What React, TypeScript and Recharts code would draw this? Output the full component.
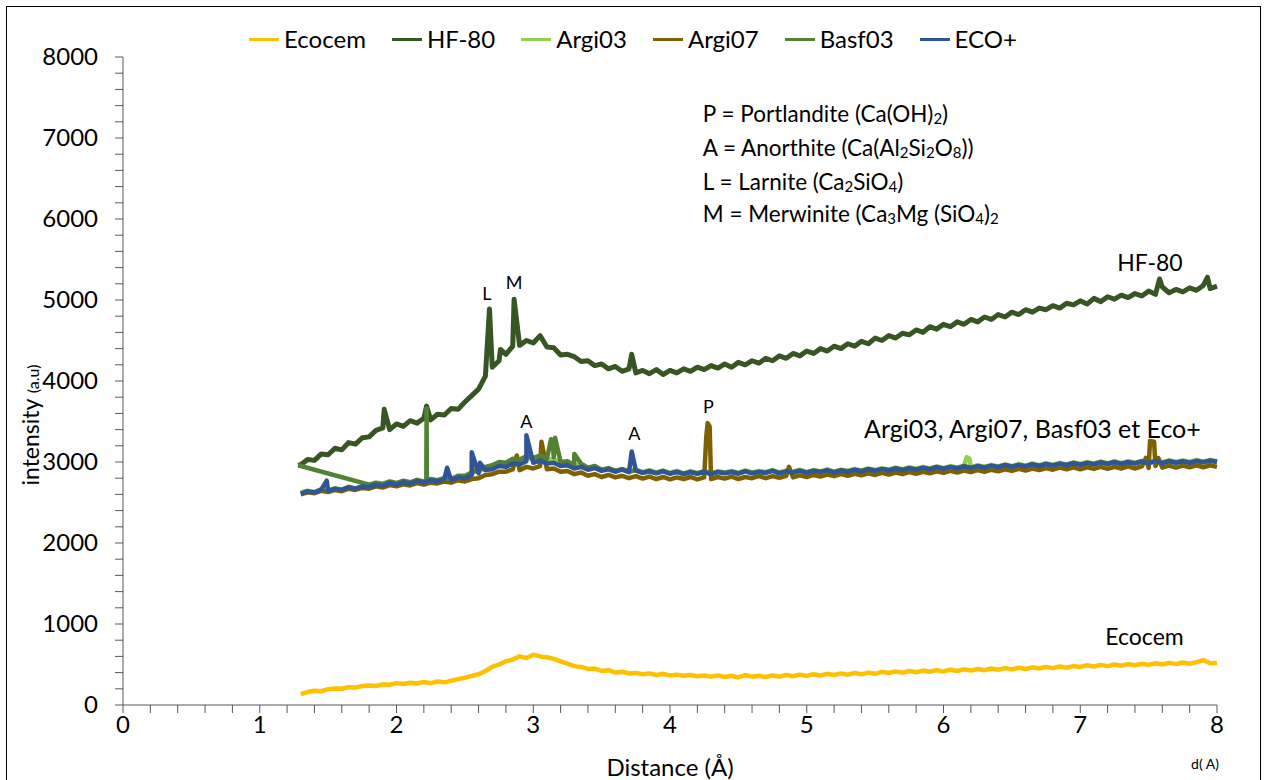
import { LineChart, Line, XAxis, YAxis, ReferenceDot } from 'recharts';

// d-spacing grid shared by all scans: 1.30 .. 8.00 step 0.05
const D_START = 1.3;
const D_STEP = 0.05;

const ecocem = [
  135, 160, 175, 170, 195, 205, 200, 220, 215, 235,
  240, 235, 255, 250, 270, 260, 275, 265, 285, 270,
  290, 280, 300, 320, 335, 360, 380, 420, 470, 500,
  540, 560, 600, 580, 620, 600, 590, 570, 540, 510,
  480, 470, 445, 450, 420, 430, 400, 410, 390, 395,
  380, 390, 370, 385, 365, 375, 360, 370, 355, 365,
  350, 365, 345, 360, 340, 370, 350, 360, 345, 365,
  350, 370, 355, 375, 360, 380, 365, 385, 370, 390,
  375, 395, 380, 400, 385, 410, 395, 415, 400, 420,
  405, 425, 410, 430, 415, 435, 420, 440, 425, 445,
  430, 450, 435, 455, 440, 460, 445, 465, 450, 470,
  455, 475, 460, 480, 470, 490, 475, 495, 480, 500,
  485, 505, 490, 510, 495, 515, 500, 520, 505, 525,
  510, 530, 555, 515, 520,
];

const hf80 = [
  2965, 3030, 3020, 3100, 3090, 3170, 3150, 3240, 3220, 3300,
  3310, 3390, 3420, 3400, 3470, 3440, 3510, 3480, 3540, 3520,
  3590, 3580, 3660, 3650, 3740, 3820, 3900, 4060, 4170, 4250,
  4330, 4430, 4440, 4500, 4470, 4560, 4420, 4410, 4320, 4330,
  4300, 4240, 4250, 4190, 4210, 4150, 4180, 4120, 4150, 4100,
  4130, 4090, 4140, 4080, 4130, 4100, 4150, 4120, 4170, 4140,
  4190, 4160, 4210, 4170, 4230, 4200, 4250, 4220, 4280, 4250,
  4310, 4280, 4340, 4310, 4370, 4340, 4400, 4370, 4430, 4400,
  4460, 4430, 4490, 4460, 4530, 4500, 4560, 4530, 4590, 4570,
  4630, 4600, 4670, 4640, 4700, 4670, 4730, 4700, 4760, 4730,
  4790, 4760, 4820, 4790, 4850, 4820, 4880, 4850, 4900, 4880,
  4930, 4900, 4960, 4940, 4990, 4950, 5020, 4980, 5040, 5010,
  5060, 5030, 5080, 5050, 5110, 5070, 5160, 5090, 5130, 5100,
  5150, 5120, 5180, 5140, 5170,
];

const argi03 = [
  2620, 2645, 2630, 2665, 2650, 2675, 2660, 2695, 2675, 2705,
  2700, 2725, 2710, 2745, 2725, 2755, 2740, 2770, 2750, 2780,
  2770, 2800, 2785, 2820, 2810, 2850, 2880, 2920, 2940, 2980,
  2970, 3020, 3000, 3060, 3030, 3070, 3020, 3040, 2990, 3000,
  2950, 2970, 2920, 2945, 2900, 2925, 2890, 2915, 2885, 2905,
  2875, 2900, 2870, 2895, 2865, 2890, 2860, 2885, 2865, 2890,
  2860, 2885, 2870, 2890, 2865, 2895, 2870, 2890, 2875, 2900,
  2870, 2895, 2880, 2905, 2875, 2900, 2885, 2910, 2880, 2905,
  2890, 2915, 2895, 2920, 2900, 2925, 2905, 2930, 2910, 2935,
  2915, 2940, 2920, 2945, 2925, 2950, 2930, 2955, 2935, 2960,
  2940, 2965, 2945, 2970, 2950, 2975, 2955, 2980, 2960, 2985,
  2965, 2990, 2970, 2995, 2975, 3000, 2980, 3005, 2985, 3010,
  2985, 3010, 2990, 3015, 2995, 3020, 2995, 3020, 3000, 3020,
  3000, 3025, 3005, 3025, 3010,
];

const argi07 = [
  2600, 2625, 2615, 2645, 2630, 2655, 2640, 2670, 2655, 2680,
  2670, 2700, 2685, 2715, 2700, 2725, 2710, 2740, 2720, 2745,
  2735, 2760, 2745, 2775, 2760, 2790, 2800, 2840, 2850, 2880,
  2880, 2910, 2900, 2940, 2920, 2950, 2910, 2920, 2880, 2890,
  2850, 2870, 2830, 2850, 2815, 2840, 2810, 2830, 2800, 2825,
  2795, 2820, 2790, 2815, 2785, 2810, 2790, 2815, 2785, 2810,
  2790, 2815, 2795, 2820, 2790, 2815, 2800, 2825, 2800, 2825,
  2805, 2830, 2810, 2835, 2815, 2840, 2820, 2845, 2825, 2850,
  2830, 2855, 2835, 2860, 2840, 2865, 2845, 2870, 2850, 2875,
  2855, 2880, 2860, 2885, 2865, 2890, 2870, 2895, 2875, 2900,
  2880, 2905, 2885, 2910, 2890, 2915, 2895, 2920, 2900, 2925,
  2905, 2930, 2910, 2935, 2910, 2935, 2915, 2940, 2915, 2940,
  2920, 2945, 2920, 2945, 2925, 2950, 2930, 2955, 2930, 2955,
  2935, 2960, 2935, 2960, 2940,
];

// Basf03 scan has no points below 1.80 except its stray first one
const basf03 = [
  null, null, null, null, null, null, null, null, null, null,
  2720, 2745, 2730, 2760, 2740, 2770, 2750, 2780, 2760, 2790,
  2775, 2800, 2790, 2830, 2830, 2870, 2900, 2940, 2960, 3000,
  2990, 3040, 3030, 3070, 3050, 3080, 3040, 3060, 3000, 3010,
  2960, 2980, 2930, 2950, 2905, 2925, 2890, 2910, 2880, 2900,
  2870, 2880, 2865, 2890, 2860, 2875, 2855, 2880, 2860, 2875,
  2855, 2880, 2865, 2875, 2860, 2890, 2865, 2875, 2870, 2895,
  2865, 2880, 2875, 2890, 2870, 2895, 2880, 2895, 2875, 2900,
  2885, 2900, 2890, 2915, 2895, 2910, 2900, 2925, 2905, 2920,
  2910, 2925, 2915, 2940, 2920, 2935, 2925, 2950, 2930, 2945,
  2935, 2950, 2940, 2965, 2945, 2960, 2950, 2975, 2955, 2970,
  2960, 2975, 2965, 2990, 2970, 2985, 2975, 3000, 2980, 2995,
  2980, 2995, 2985, 3010, 2990, 3005, 2990, 3015, 2995, 3005,
  2995, 3010, 3000, 3020, 3005,
];

const ecoPlus = [
  2610, 2640, 2625, 2660, 2645, 2670, 2655, 2690, 2670, 2700,
  2690, 2720, 2705, 2740, 2720, 2750, 2735, 2765, 2745, 2775,
  2760, 2790, 2775, 2810, 2800, 2840, 2860, 2900, 2910, 2950,
  2940, 2980, 2970, 3010, 2990, 3020, 2980, 2990, 2950, 2960,
  2920, 2940, 2905, 2925, 2890, 2910, 2880, 2905, 2875, 2895,
  2865, 2890, 2860, 2885, 2855, 2880, 2850, 2875, 2855, 2880,
  2850, 2875, 2860, 2880, 2855, 2885, 2860, 2880, 2865, 2890,
  2860, 2885, 2870, 2895, 2865, 2890, 2875, 2900, 2870, 2895,
  2880, 2905, 2885, 2910, 2890, 2915, 2895, 2920, 2900, 2925,
  2905, 2930, 2910, 2935, 2915, 2940, 2920, 2945, 2925, 2950,
  2930, 2955, 2935, 2960, 2940, 2965, 2945, 2970, 2950, 2975,
  2955, 2980, 2960, 2985, 2965, 2990, 2970, 2995, 2975, 3000,
  2975, 3000, 2980, 3005, 2985, 3010, 2985, 3010, 2990, 3010,
  2990, 3015, 2995, 3015, 3000,
];

// narrow diffraction peaks, [d, intensity]
const ecocemPeaks: [number, number][] = [];
const hf80Peaks: [number, number][] = [
  [1.28, 2960], [1.91, 3650], [2.22, 3690], [2.68, 4890], [2.76, 4390],
  [2.86, 5010], [3.72, 4330], [7.58, 5260], [7.93, 5280],
];
const argi03Peaks: [number, number][] = [[2.57, 2900], [6.17, 3060], [6.19, 3040]];
const argi07Peaks: [number, number][] = [
  [2.88, 3080], [3.06, 3250], [4.265, 3300], [4.275, 3480], [4.29, 3440],
  [4.87, 2940], [7.48, 3050], [7.51, 3260], [7.54, 3250], [7.57, 3050],
];
const basf03Peaks: [number, number][] = [
  [1.28, 2960], [2.218, 2770], [2.22, 3660], [2.222, 2770],
  [3.13, 3280], [3.145, 3180], [3.16, 3300], [3.3, 3100],
];
const ecoPlusPeaks: [number, number][] = [
  [1.49, 2770], [2.37, 2930], [2.55, 3120], [2.61, 2990], [2.95, 3330], [3.72, 3130],
];

const xTicks = [
  0, 0.2, 0.4, 0.6, 0.8, 1, 1.2, 1.4, 1.6, 1.8, 2, 2.2, 2.4, 2.6, 2.8, 3, 3.2, 3.4, 3.6, 3.8,
  4, 4.2, 4.4, 4.6, 4.8, 5, 5.2, 5.4, 5.6, 5.8, 6, 6.2, 6.4, 6.6, 6.8, 7, 7.2, 7.4, 7.6, 7.8, 8,
];
const yTicks = [
  0, 200, 400, 600, 800, 1000, 1200, 1400, 1600, 1800, 2000, 2200, 2400, 2600, 2800, 3000,
  3200, 3400, 3600, 3800, 4000, 4200, 4400, 4600, 4800, 5000, 5200, 5400, 5600, 5800, 6000,
  6200, 6400, 6600, 6800, 7000, 7200, 7400, 7600, 7800, 8000,
];

const series = [
  { name: 'Ecocem', color: '#FFC000', values: ecocem, peaks: ecocemPeaks },
  { name: 'HF-80', color: '#375623', values: hf80, peaks: hf80Peaks },
  { name: 'Argi03', color: '#92D050', values: argi03, peaks: argi03Peaks },
  { name: 'Argi07', color: '#7F6000', values: argi07, peaks: argi07Peaks },
  { name: 'Basf03', color: '#548235', values: basf03, peaks: basf03Peaks },
  { name: 'ECO+', color: '#2F5597', values: ecoPlus, peaks: ecoPlusPeaks },
];

const peakLabels = [
  { text: 'L', d: 2.66, v: 5080 },
  { text: 'M', d: 2.86, v: 5210 },
  { text: 'A', d: 2.95, v: 3500 },
  { text: 'A', d: 3.74, v: 3350 },
  { text: 'P', d: 4.28, v: 3690 },
];
const curveLabels = [
  { text: 'HF-80', d: 7.51, v: 5460 },
  { text: 'Argi03, Argi07, Basf03 et Eco+', d: 6.65, v: 3410 },
  { text: 'Ecocem', d: 7.47, v: 840 },
];

const FONT = "Lato, 'Open Sans', sans-serif";

function buildPoints(values: (number | null)[], peaks: [number, number][]) {
  const pts = values
    .map((v, i) => ({ d: +(D_START + i * D_STEP).toFixed(2), v }))
    .filter((p) => p.v !== null) as { d: number; v: number }[];
  peaks.forEach(([d, v]) => pts.push({ d, v }));
  return pts.sort((a, b) => a.d - b.d);
}

const XTick = ({ x, y, payload }: any) =>
  Math.abs(payload.value - Math.round(payload.value)) < 1e-6 ? (
    <text x={x} y={y} dy={18} textAnchor="middle" fontSize={24} fontFamily={FONT} fill="#000">
      {Math.round(payload.value)}
    </text>
  ) : null;

const YTick = ({ x, y, payload }: any) =>
  payload.value % 1000 === 0 ? (
    <text x={x} y={y} dy={8} textAnchor="end" fontSize={24} fontFamily={FONT} fill="#000">
      {payload.value}
    </text>
  ) : null;

const SUB = 15;

const MineralKey = ({ viewBox }: any) => {
  const x = viewBox.x;
  const y = viewBox.y;
  return (
    <g fontFamily={FONT} fontSize={22.5} fill="#000">
      <text x={x} y={y}>
        P = Portlandite (Ca(OH)<tspan fontSize={SUB} dy={2}>2</tspan><tspan dy={-2}>)</tspan>
      </text>
      <text x={x} y={y + 34}>
        A = Anorthite (Ca(Al<tspan fontSize={SUB} dy={2}>2</tspan><tspan dy={-2}>Si</tspan>
        <tspan fontSize={SUB} dy={2}>2</tspan><tspan dy={-2}>O</tspan>
        <tspan fontSize={SUB} dy={2}>8</tspan><tspan dy={-2}>))</tspan>
      </text>
      <text x={x} y={y + 68}>
        L = Larnite (Ca<tspan fontSize={SUB} dy={2}>2</tspan><tspan dy={-2}>SiO</tspan>
        <tspan fontSize={SUB} dy={2}>4</tspan><tspan dy={-2}>)</tspan>
      </text>
      <text x={x} y={y + 100}>
        M = Merwinite (Ca<tspan fontSize={SUB} dy={2}>3</tspan><tspan dy={-2}>Mg (SiO</tspan>
        <tspan fontSize={SUB} dy={2}>4</tspan><tspan dy={-2}>)</tspan>
        <tspan fontSize={SUB} dy={2}>2</tspan>
      </text>
    </g>
  );
};

export default function App() {
  return (
    <div
      style={{
        position: 'fixed', left: 0, top: 0, width: 1266, height: 780,
        background: '#fff', fontFamily: FONT, overflow: 'hidden',
      }}
    >
      <div
        style={{
          position: 'absolute', left: 6, top: 6, width: 1255, height: 800,
          border: '1px solid #000', boxSizing: 'border-box',
        }}
      />
      {/* legend */}
      <div
        style={{
          position: 'absolute', top: 24, left: 0, width: 1266, display: 'flex',
          justifyContent: 'center', gap: 26, fontSize: 24, lineHeight: '30px', color: '#000',
        }}
      >
        {series.map((s) => (
          <div key={s.name} style={{ display: 'flex', alignItems: 'center' }}>
            <span style={{ display: 'inline-block', width: 30, height: 3, background: s.color, marginRight: 5 }} />
            <span>{s.name}</span>
          </div>
        ))}
      </div>
      <LineChart width={1266} height={780} margin={{ top: 57, right: 49, left: 0, bottom: 0 }}>
        <XAxis
          type="number"
          dataKey="d"
          domain={[0, 8]}
          ticks={xTicks}
          interval={0}
          tick={<XTick />}
          tickSize={8}
          height={75}
          stroke="#595959"
          allowDuplicatedCategory={false}
        />
        <YAxis
          type="number"
          domain={[0, 8000]}
          ticks={yTicks}
          interval={0}
          tick={<YTick />}
          tickSize={8}
          tickMargin={17}
          width={123}
          stroke="#595959"
        />
        {series.map((s) => (
          <Line
            key={s.name}
            data={buildPoints(s.values, s.peaks)}
            dataKey="v"
            name={s.name}
            type="linear"
            stroke={s.color}
            strokeWidth={s.name === 'HF-80' ? 5 : 4.5}
            strokeLinejoin="round"
            dot={false}
            isAnimationActive={false}
          />
        ))}
        {peakLabels.map((p, i) => (
          <ReferenceDot
            key={'p' + i}
            x={p.d}
            y={p.v}
            r={0}
            stroke="none"
            label={{ value: p.text, position: 'center', fontSize: 18, fill: '#000', fontFamily: FONT }}
          />
        ))}
        {curveLabels.map((p, i) => (
          <ReferenceDot
            key={'c' + i}
            x={p.d}
            y={p.v}
            r={0}
            stroke="none"
            label={{
              value: p.text, position: 'center', fill: '#000', fontFamily: FONT,
              fontSize: p.text.length > 10 ? 25 : 23,
            }}
          />
        ))}
        <ReferenceDot x={4.24} y={7200} r={0} stroke="none" label={{ content: MineralKey }} />
      </LineChart>
      {/* axis titles */}
      <div
        style={{
          position: 'absolute', left: 30, top: 425, transform: 'translate(-50%, -50%) rotate(-90deg)',
          whiteSpace: 'nowrap', fontSize: 23, color: '#000',
        }}
      >
        intensity <span style={{ fontSize: 16 }}>(a.u)</span>
      </div>
      <div
        style={{
          position: 'absolute', left: 670, top: 766, transform: 'translate(-50%, -50%)',
          whiteSpace: 'nowrap', fontSize: 24, color: '#000',
        }}
      >
        Distance (Å)
      </div>
      <div
        style={{
          position: 'absolute', left: 1205, top: 763, transform: 'translate(-50%, -50%)',
          whiteSpace: 'nowrap', fontSize: 14, color: '#000',
        }}
      >
        d( A)
      </div>
    </div>
  );
}
